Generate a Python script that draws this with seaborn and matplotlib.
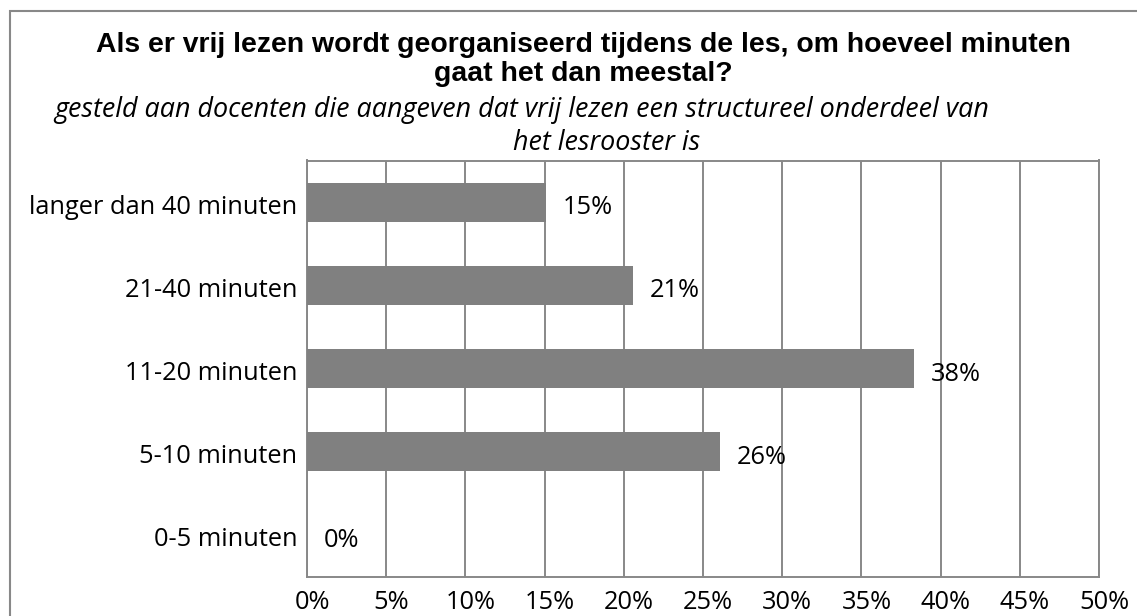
import matplotlib
matplotlib.use('Agg')
import matplotlib.pyplot as plt
import matplotlib.transforms as mtransforms
from matplotlib.patches import Rectangle
import seaborn as sns
import pandas as pd

# data
categories = ['langer dan 40 minuten', '21-40 minuten', '11-20 minuten', '5-10 minuten', '0-5 minuten']
values = [15.1, 20.6, 38.3, 26.1, 0.0]
value_labels = ['15%', '21%', '38%', '26%', '0%']
xticks = [0, 5, 10, 15, 20, 25, 30, 35, 40, 45, 50]
title_line1 = 'Als er vrij lezen wordt georganiseerd tijdens de les, om hoeveel minuten'
title_line2 = 'gaat het dan meestal?'
sub_line1 = 'gesteld aan docenten die aangeven dat vrij lezen een structureel onderdeel van'
sub_line2 = 'het lesrooster is'

sns.set_theme(style='white')
plt.rcParams['font.family'] = ['Open Sans', 'DejaVu Sans']
plt.rcParams['text.color'] = 'black'
plt.rcParams['xtick.color'] = 'black'
plt.rcParams['ytick.color'] = 'black'

W, H = 1137, 616
grey = '#888888'
bar_color = '#808080'

fig = plt.figure(figsize=(W / 100, H / 100), dpi=100)
fig.patch.set_facecolor('white')
ax = fig.add_axes([307 / W, 1 - 576.5 / H, (1099 - 307) / W, (576.5 - 160.5) / H])

df = pd.DataFrame({'cat': categories, 'val': values})
sns.barplot(data=df, x='val', y='cat', color=bar_color, saturation=1, width=0.47,
            linewidth=0, ax=ax, zorder=3)

ax.set_xlim(0, 50)
ax.set_xticks(xticks)
ax.set_xticklabels(['%d%%' % t for t in xticks])
ax.set_xlabel('')
ax.set_ylabel('')
ax.xaxis.grid(True, color=grey, linewidth=1.4, zorder=0)
ax.yaxis.grid(False)
ax.set_axisbelow(True)
for s in ax.spines.values():
    s.set_visible(True)
    s.set_color(grey)
    s.set_linewidth(1.4)
ax.tick_params(axis='both', length=0)
ax.tick_params(axis='y', pad=7)
ax.tick_params(axis='x', pad=10)

renderer = fig.canvas.get_renderer()


def fit(t, target):
    w = t.get_window_extent(renderer).width
    t.set_fontsize(t.get_fontsize() * target / w)


# category labels
ylabs = ax.get_yticklabels()
for t in ylabs:
    t.set_fontsize(16)
fit(ylabs[0], 269)
fs = ylabs[0].get_fontsize()
down = mtransforms.ScaledTranslation(0, -2 / 100, fig.dpi_scale_trans)
for t in ylabs:
    t.set_fontsize(fs)
    t.set_transform(t.get_transform() + down)

shift = mtransforms.ScaledTranslation(5 / 100, 0, fig.dpi_scale_trans)
for t in ax.get_xticklabels():
    t.set_fontsize(fs)
    t.set_transform(t.get_transform() + shift)

# value labels
for i, (v, lab) in enumerate(zip(values, value_labels)):
    ax.annotate(lab, (v, i), xytext=(12, -4), textcoords='offset points',
                ha='left', va='center', fontsize=fs)

# titles
title_font = ['Liberation Sans', 'DejaVu Sans']
t1 = fig.text(583 / W, 1 - 45 / H, title_line1, ha='center', va='center', fontsize=16,
              fontweight='bold', family=title_font)
fit(t1, 975)
fig.text(583 / W, 1 - 74 / H, title_line2, ha='center', va='center',
         fontsize=t1.get_fontsize(), fontweight='bold', family=title_font)

s1 = fig.text(522 / W, 1 - 110 / H, sub_line1, ha='center', va='center', fontsize=14, style='italic')
fit(s1, 940)
fig.text(607 / W, 1 - 143 / H, sub_line2, ha='center', va='center',
         fontsize=s1.get_fontsize(), style='italic')

# chart border
fig.add_artist(Rectangle((10 / W, -0.5), 1.5, 1.5 - 11 / H, transform=fig.transFigure,
                         fill=False, edgecolor=grey, linewidth=1.5))

fig.savefig('out.png', dpi=100)
